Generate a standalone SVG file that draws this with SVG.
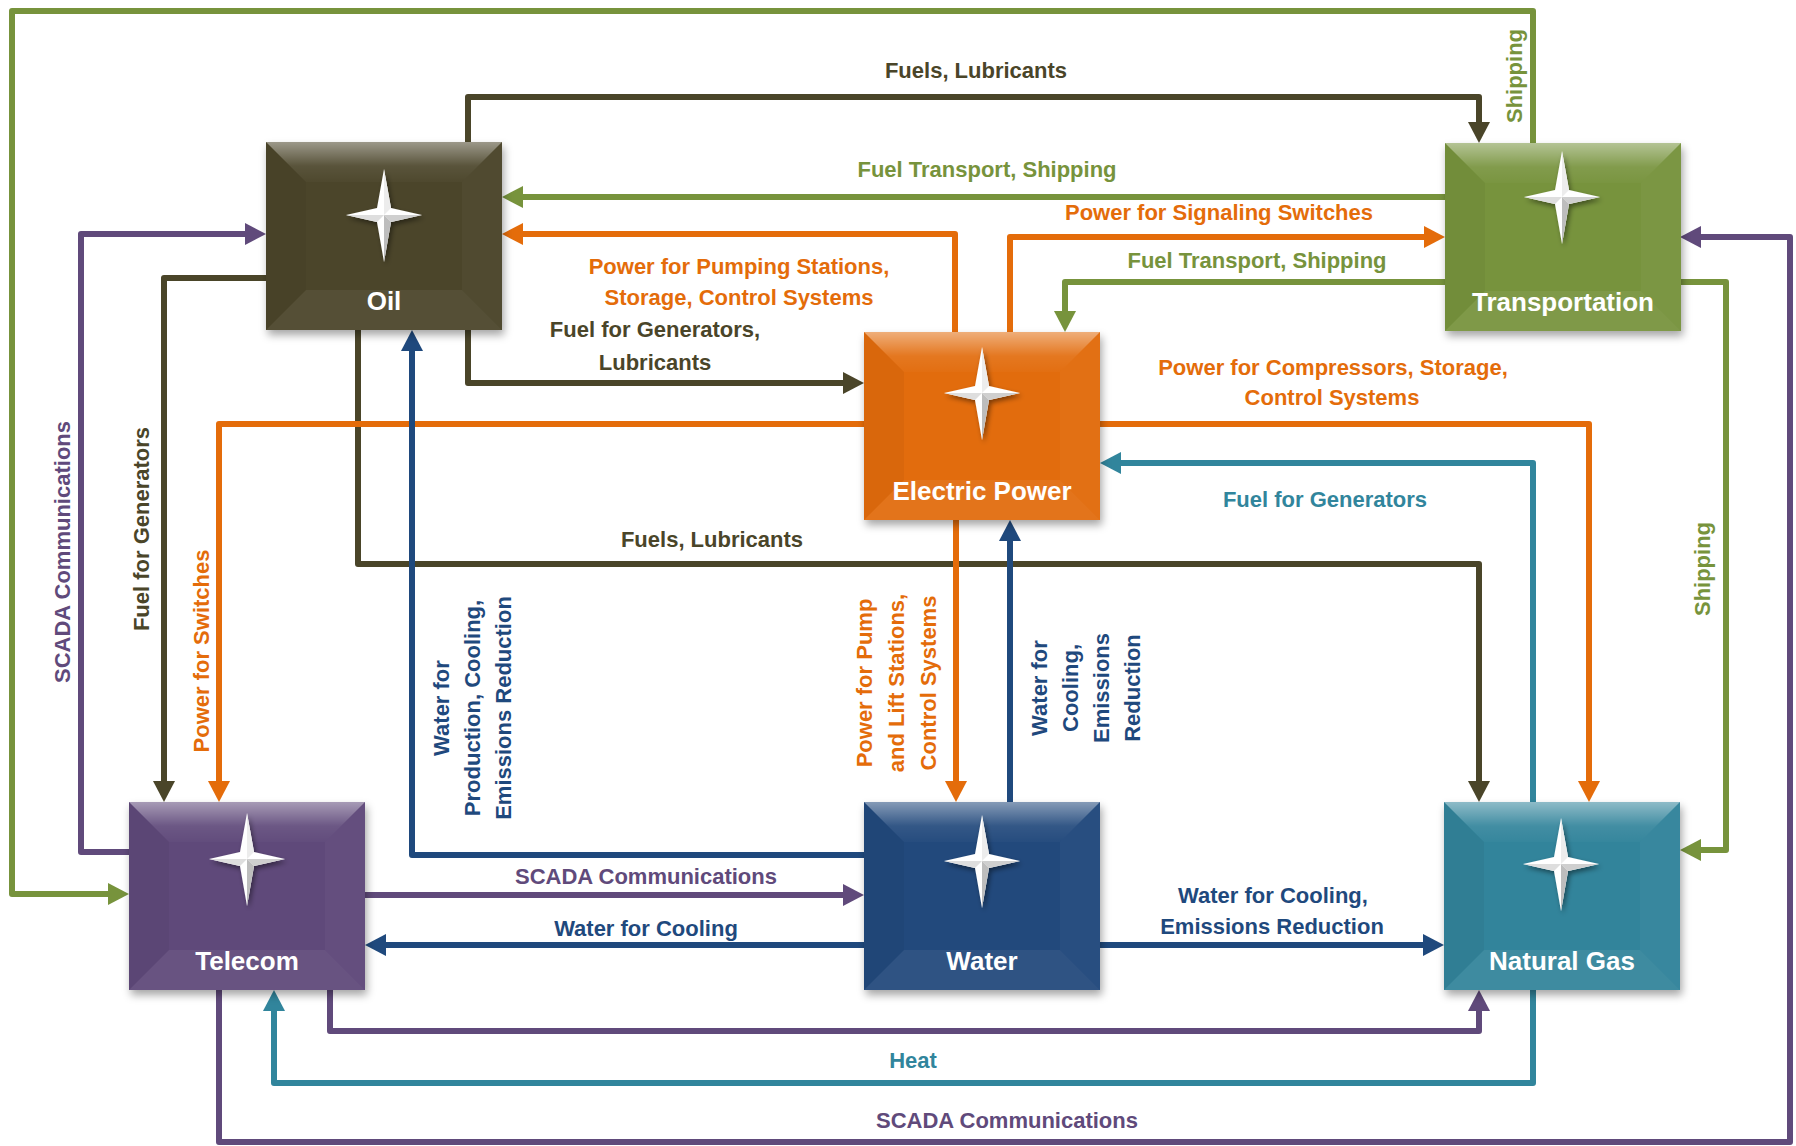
<svg xmlns="http://www.w3.org/2000/svg" xmlns:xlink="http://www.w3.org/1999/xlink" width="1796" height="1146" viewBox="0 0 1796 1146">
<style>
.c{fill:none;stroke-width:6;stroke-linejoin:round;stroke-linecap:butt}
.gr{stroke:#77933C}.dk{stroke:#4A4529}.or{stroke:#E46C0A}.bl{stroke:#1F497D}.tl{stroke:#31859C}.pu{stroke:#604A7B}
.t{font-family:"Liberation Sans",Arial,sans-serif;font-weight:bold;font-size:22px;text-anchor:middle}
.tgr{fill:#77933C}.tdk{fill:#4A4529}.tor{fill:#E46C0A}.tbl{fill:#1F497D}.ttl{fill:#31859C}.tpu{fill:#604A7B}
.nl{font-family:"Liberation Sans",Arial,sans-serif;font-weight:bold;font-size:26px;text-anchor:middle;fill:#fff}
</style>
<defs>
<filter id="sh" x="-10%" y="-10%" width="130%" height="130%"><feDropShadow dx="2" dy="5" stdDeviation="4" flood-color="#000" flood-opacity="0.35"/></filter>
<filter id="ssh" x="-30%" y="-30%" width="160%" height="160%"><feDropShadow dx="2" dy="3" stdDeviation="2.5" flood-color="#000" flood-opacity="0.45"/></filter>
<linearGradient id="topHi" x1="0" y1="0" x2="0" y2="1"><stop offset="0" stop-color="#fff" stop-opacity="0.45"/><stop offset="0.6" stop-color="#fff" stop-opacity="0.08"/><stop offset="1" stop-color="#fff" stop-opacity="0.02"/></linearGradient>
<symbol id="bevel" viewBox="0 0 236 188" width="236" height="188">
<polygon points="0,0 236,0 196,40 40,40" fill="url(#topHi)"/>
<polygon points="0,0 40,40 40,148 0,188" fill="#000" fill-opacity="0.04"/>
<polygon points="236,0 236,188 196,148 196,40" fill="#fff" fill-opacity="0.03"/>
<polygon points="0,188 40,148 196,148 236,188" fill="#fff" fill-opacity="0.06"/>
</symbol>
<g id="star">
<polygon points="0,-46 7,-7 38,0 7,7 0,47 -7,7 -38,0 -7,-7" fill="#fff" filter="url(#ssh)"/>
<polygon points="0,-46 7,-7 0,0" fill="#ececec"/>
<polygon points="38,0 7,7 0,0" fill="#cfcfcf"/>
<polygon points="0,47 7,7 0,0" fill="#bdbdbd"/>
<polygon points="-38,0 -7,7 0,0" fill="#dedede"/>
</g>
<marker id="agr" viewBox="0 0 21 22" markerWidth="21" markerHeight="22" refX="9" refY="11" orient="auto" markerUnits="userSpaceOnUse"><path d="M0,0 L21,11 L0,22 Z" fill="#77933C"/></marker>
<marker id="adk" viewBox="0 0 21 22" markerWidth="21" markerHeight="22" refX="9" refY="11" orient="auto" markerUnits="userSpaceOnUse"><path d="M0,0 L21,11 L0,22 Z" fill="#4A4529"/></marker>
<marker id="aor" viewBox="0 0 21 22" markerWidth="21" markerHeight="22" refX="9" refY="11" orient="auto" markerUnits="userSpaceOnUse"><path d="M0,0 L21,11 L0,22 Z" fill="#E46C0A"/></marker>
<marker id="abl" viewBox="0 0 21 22" markerWidth="21" markerHeight="22" refX="9" refY="11" orient="auto" markerUnits="userSpaceOnUse"><path d="M0,0 L21,11 L0,22 Z" fill="#1F497D"/></marker>
<marker id="atl" viewBox="0 0 21 22" markerWidth="21" markerHeight="22" refX="9" refY="11" orient="auto" markerUnits="userSpaceOnUse"><path d="M0,0 L21,11 L0,22 Z" fill="#31859C"/></marker>
<marker id="apu" viewBox="0 0 21 22" markerWidth="21" markerHeight="22" refX="9" refY="11" orient="auto" markerUnits="userSpaceOnUse"><path d="M0,0 L21,11 L0,22 Z" fill="#604A7B"/></marker>
</defs>
<rect width="1796" height="1146" fill="#fff"/>

<g id="connectors">
<path class="c gr" d="M1533,143 V11 H12 V894 H117" marker-end="url(#agr)"/>
<path class="c dk" d="M468,142 V97 H1479 V131" marker-end="url(#adk)"/>
<path class="c gr" d="M1445,197 H514" marker-end="url(#agr)"/>
<path class="c or" d="M955,332 V234 H514" marker-end="url(#aor)"/>
<path class="c dk" d="M468,330 V383 H852" marker-end="url(#adk)"/>
<path class="c or" d="M1010,332 V237 H1433" marker-end="url(#aor)"/>
<path class="c gr" d="M1445,282 H1065 V320" marker-end="url(#agr)"/>
<path class="c dk" d="M358,330 V564 H1479 V790" marker-end="url(#adk)"/>
<path class="c dk" d="M266,278 H164 V790" marker-end="url(#adk)"/>
<path class="c pu" d="M129,852 H81 V234 H254" marker-end="url(#apu)"/>
<path class="c or" d="M864,424 H219 V790" marker-end="url(#aor)"/>
<path class="c bl" d="M864,855 H412 V342" marker-end="url(#abl)"/>
<path class="c or" d="M1100,424 H1589 V790" marker-end="url(#aor)"/>
<path class="c tl" d="M1533,802 V463 H1112" marker-end="url(#atl)"/>
<path class="c gr" d="M1680,282 H1726 V850 H1692" marker-end="url(#agr)"/>
<path class="c tl" d="M1533,990 V1083 H274 V1002" marker-end="url(#atl)"/>
<path class="c pu" d="M330,990 V1031 H1479 V1002" marker-end="url(#apu)"/>
<path class="c pu" d="M219,990 V1142 H1790 V237 H1692" marker-end="url(#apu)"/>
<path class="c pu" d="M365,895 H852" marker-end="url(#apu)"/>
<path class="c bl" d="M864,945 H377" marker-end="url(#abl)"/>
<path class="c bl" d="M1100,945 H1432" marker-end="url(#abl)"/>
<path class="c or" d="M956,520 V790" marker-end="url(#aor)"/>
<path class="c bl" d="M1010,802 V532" marker-end="url(#abl)"/>
</g>

<g id="labels">
<text class="t tdk" x="976" y="78">Fuels, Lubricants</text>
<text class="t tgr" x="987" y="177">Fuel Transport, Shipping</text>
<text class="t tor" x="1219" y="220">Power for Signaling Switches</text>
<text class="t tor" x="739" y="274">Power for Pumping Stations,</text>
<text class="t tor" x="739" y="305">Storage, Control Systems</text>
<text class="t tgr" x="1257" y="268">Fuel Transport, Shipping</text>
<text class="t tdk" x="655" y="337">Fuel for Generators,</text>
<text class="t tdk" x="655" y="370">Lubricants</text>
<text class="t tor" x="1333" y="375">Power for Compressors, Storage,</text>
<text class="t tor" x="1332" y="405">Control Systems</text>
<text class="t ttl" x="1325" y="507">Fuel for Generators</text>
<text class="t tdk" x="712" y="547">Fuels, Lubricants</text>
<text class="t tpu" x="646" y="884">SCADA Communications</text>
<text class="t tbl" x="646" y="936">Water for Cooling</text>
<text class="t tbl" x="1273" y="903">Water for Cooling,</text>
<text class="t tbl" x="1272" y="934">Emissions Reduction</text>
<text class="t ttl" x="913" y="1068">Heat</text>
<text class="t tpu" x="1007" y="1128">SCADA Communications</text>
<text class="t tgr" transform="translate(1522,76) rotate(-90)">Shipping</text>
<text class="t tgr" transform="translate(1710,569) rotate(-90)">Shipping</text>
<text class="t tpu" transform="translate(70,552) rotate(-90)">SCADA Communications</text>
<text class="t tdk" transform="translate(149,529) rotate(-90)">Fuel for Generators</text>
<text class="t tor" transform="translate(209,651) rotate(-90)">Power for Switches</text>
<text class="t tbl" transform="translate(449,708) rotate(-90)"><tspan x="0" dy="0">Water for</tspan><tspan x="0" dy="31">Production, Cooling,</tspan><tspan x="0" dy="31">Emissions Reduction</tspan></text>
<text class="t tor" transform="translate(872,683) rotate(-90)"><tspan x="0" dy="0">Power for Pump</tspan><tspan x="0" dy="32">and Lift Stations,</tspan><tspan x="0" dy="32">Control Systems</tspan></text>
<text class="t tbl" transform="translate(1047,688) rotate(-90)"><tspan x="0" dy="0">Water for</tspan><tspan x="0" dy="31">Cooling,</tspan><tspan x="0" dy="31">Emissions</tspan><tspan x="0" dy="31">Reduction</tspan></text>
</g>

<g id="node-oil">
<rect x="266" y="142" width="236" height="188" fill="#4B4529" filter="url(#sh)"/>
<use href="#bevel" x="266" y="142"/>
<use href="#star" x="384" y="215"/>
<text class="nl" x="384" y="310">Oil</text>
</g>
<g id="node-transportation">
<rect x="1445" y="143" width="236" height="188" fill="#77933C" filter="url(#sh)"/>
<use href="#bevel" x="1445" y="143"/>
<use href="#star" x="1562" y="197"/>
<text class="nl" x="1563" y="311">Transportation</text>
</g>
<g id="node-electric-power">
<rect x="864" y="332" width="236" height="188" fill="#E26C0E" filter="url(#sh)"/>
<use href="#bevel" x="864" y="332"/>
<use href="#star" x="982" y="393"/>
<text class="nl" x="982" y="500">Electric Power</text>
</g>
<g id="node-telecom">
<rect x="129" y="802" width="236" height="188" fill="#5F497A" filter="url(#sh)"/>
<use href="#bevel" x="129" y="802"/>
<use href="#star" x="247" y="859"/>
<text class="nl" x="247" y="970">Telecom</text>
</g>
<g id="node-water">
<rect x="864" y="802" width="236" height="188" fill="#234A7C" filter="url(#sh)"/>
<use href="#bevel" x="864" y="802"/>
<use href="#star" x="982" y="861"/>
<text class="nl" x="982" y="970">Water</text>
</g>
<g id="node-natural-gas">
<rect x="1444" y="802" width="236" height="188" fill="#31849B" filter="url(#sh)"/>
<use href="#bevel" x="1444" y="802"/>
<use href="#star" x="1561" y="864"/>
<text class="nl" x="1562" y="970">Natural Gas</text>
</g>
</svg>
